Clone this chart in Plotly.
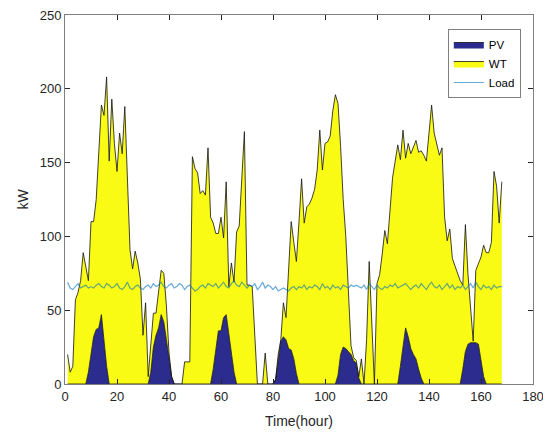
import plotly.graph_objects as go

hours = list(range(1, 169))

pv = [0, 0, 0, 0, 0, 0, 0, 0, 8, 22, 32, 37, 38, 47, 30, 12, 0, 0, 0, 0,
      0, 0, 0, 0, 0, 0, 0, 0, 0, 0, 0, 0, 8, 25, 33, 38, 47, 42, 30, 16,
      5, 0, 0, 0, 0, 0, 0, 0, 0, 0, 0, 0, 0, 0, 0, 0, 10, 25, 36, 36,
      45, 47, 34, 20, 8, 0, 0, 0, 0, 0, 0, 0, 0, 0, 0, 0, 0, 0, 0, 0,
      3, 18, 29, 32, 30, 24, 23, 17, 7, 0, 0, 0, 0, 0, 0, 0, 0, 0, 0, 0,
      0, 0, 0, 0, 6, 20, 25, 24, 22, 20, 16, 14, 4, 0, 0, 0, 0, 0, 0, 0,
      0, 0, 0, 0, 0, 0, 0, 0, 12, 25, 38, 32, 24, 20, 17, 10, 4, 0, 0, 0,
      0, 0, 0, 0, 0, 0, 0, 0, 0, 0, 0, 0, 10, 22, 27, 28, 28, 28, 27, 15,
      5, 0, 0, 0, 0, 0, 0, 0]

wt = [20, 8, 12, 57, 62, 70, 89, 80, 62, 88, 78, 88, 122, 142, 152, 196, 151, 193, 163, 144,
      170, 156, 188, 141, 91, 78, 90, 82, 71, 33, 55, 5, 20, 23, 15, 23, 30, 33, 23, 5,
      0, 0, 0, 0, 0, 15, 15, 15, 154, 146, 143, 129, 131, 128, 160, 113, 99, 77, 66, 77,
      54, 90, 32, 62, 61, 103, 107, 140, 171, 67, 67, 66, 35, 0, 0, 0, 21, 0, 0, 0,
      0, 2, 1, 23, 15, 51, 87, 79, 76, 110, 139, 109, 120, 122, 126, 132, 145, 172, 145, 163,
      164, 168, 185, 196, 184, 141, 100, 76, 40, 6, 2, 2, 1, 17, 0, 30, 83, 35, 0, 68,
      74, 88, 104, 95, 118, 140, 151, 162, 140, 147, 115, 131, 132, 140, 148, 147, 154, 155, 151, 170,
      189, 170, 163, 155, 160, 113, 97, 105, 85, 80, 76, 70, 57, 86, 47, 22, 1, 49, 55, 71,
      89, 89, 89, 96, 144, 134, 109, 137]

load = [69, 65, 64, 66, 68, 65, 66, 67, 65, 66, 65, 67, 68, 66, 65, 68, 67, 65, 66, 68,
        65, 64, 66, 69, 65, 64, 66, 67, 65, 64, 66, 67, 65, 68, 66, 67, 69, 66, 65, 67,
        68, 65, 66, 68, 67, 64, 66, 67, 65, 63, 64, 66, 67, 65, 68, 67, 66, 68, 65, 67,
        69, 66, 65, 68, 70, 67, 66, 69, 67, 65, 67, 66, 68, 64, 66, 69, 65, 67, 66, 64,
        66, 63, 64, 65, 64, 63, 65, 66, 64, 66, 65, 67, 64, 66, 65, 67, 66, 64, 68, 65,
        66, 64, 67, 65, 66, 64, 67, 66, 65, 67, 66, 67, 66, 65, 67, 64, 68, 66, 64, 67,
        65, 64, 66, 65, 67, 66, 68, 65, 66, 67, 68, 66, 64, 66, 67, 65, 68, 66, 64, 67,
        69, 66, 65, 67, 64, 66, 68, 65, 67, 64, 66, 65, 67, 64, 66, 68, 65, 69, 66, 64,
        67, 65, 66, 64, 67, 65, 66, 66]

x_ticks = [0, 20, 40, 60, 80, 100, 120, 140, 160, 180]
y_ticks = [0, 50, 100, 150, 200, 250]

FONT = "Liberation Sans, Arial, Helvetica, sans-serif"
AX = "#262626"

fig = go.Figure()
fig.add_trace(go.Scatter(x=hours, y=pv, name="PV", mode="lines", stackgroup="s",
                         line=dict(color="#111111", width=0.8),
                         fillcolor="#2c2c8e"))
fig.add_trace(go.Scatter(x=hours, y=wt, name="WT", mode="lines", stackgroup="s",
                         line=dict(color="#111111", width=0.8),
                         fillcolor="#f9fb15"))
fig.add_trace(go.Scatter(x=hours, y=load, name="Load", mode="lines",
                         line=dict(color="rgba(0,114,189,0.6)", width=1.2)))

# page body has an 8px margin: figure sized/offset so plot lands at x 65-533, y 15-384
fig.update_layout(
    width=543, height=424,
    margin=dict(l=57, r=18, t=7, b=48, autoexpand=False),
    paper_bgcolor="white", plot_bgcolor="white",
    font=dict(family=FONT, size=13, color=AX),
    showlegend=True,
    legend=dict(x=0.974, y=0.962, xanchor="right", yanchor="top",
                bgcolor="white", bordercolor="#7f7f7f", borderwidth=1,
                font=dict(size=11.5, color="#000000"),
                traceorder="normal", itemwidth=30, tracegroupgap=0),
)
fig.update_xaxes(range=[0, 180], tickvals=x_ticks, ticktext=[str(v) for v in x_ticks],
                 ticks="inside", ticklen=5, tickcolor=AX, showline=True,
                 linecolor="#7f7f7f", linewidth=1, mirror="allticks", showgrid=False,
                 zeroline=False, automargin=True, ticklabeloverflow="allow",
                 title=dict(text="Time(hour)", font=dict(size=14), standoff=13))
fig.update_yaxes(range=[0, 250], tickvals=y_ticks, ticktext=[str(v) for v in y_ticks],
                 ticks="inside", ticklen=5, tickcolor=AX, showline=True,
                 linecolor="#7f7f7f", linewidth=1, mirror="allticks", showgrid=False,
                 zeroline=False, automargin=True, ticklabeloverflow="allow",
                 title=dict(text="kW", font=dict(size=14), standoff=7))

fig.write_html("out.html")
